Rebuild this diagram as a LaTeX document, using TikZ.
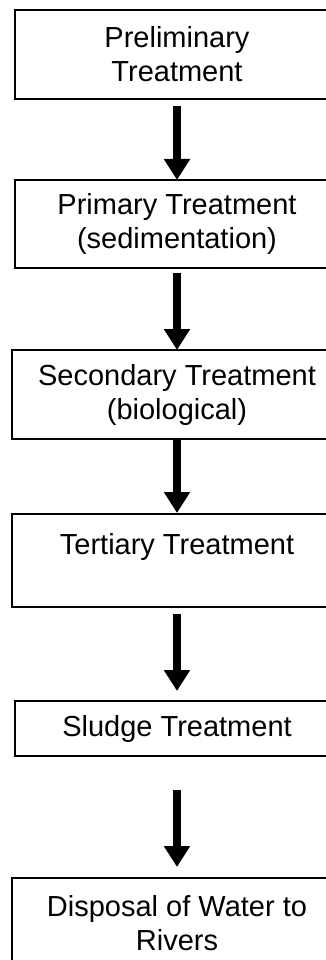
\documentclass[tikz,border=0pt]{standalone}
\usepackage{fontspec}
\setmainfont{Liberation Sans}
\usetikzlibrary{arrows.meta}
\tikzset{
  stagebox/.style={draw=black, line width=1.5pt, fill=white, align=center, inner sep=0pt,
    font=\fontsize{29}{34}\selectfont, text=black},
  flowarrow/.style={line width=8pt, -{Triangle[width=25pt,length=21pt]}}
}
\begin{document}
\begin{tikzpicture}[x=1pt,y=-1pt]
\useasboundingbox (0,0) rectangle (326,960);
\node[stagebox, minimum width=324pt, minimum height=89pt] (b1) at (177,54.5) {Preliminary\\Treatment};
\node[stagebox, minimum width=324pt, minimum height=88pt] (b2) at (177,224) {Primary Treatment\\(sedimentation)};
\node[stagebox, minimum width=330pt, minimum height=89pt] (b3) at (177,394.5) {Secondary Treatment\\(biological)};
\node[stagebox, minimum width=330pt, minimum height=93pt] (b4) at (177,560.5) {Tertiary Treatment\\\mbox{}};
\node[stagebox, minimum width=324pt, minimum height=55pt] (b5) at (177,728.5) {Sludge Treatment};
\node[stagebox, minimum width=330pt, minimum height=91pt] (b6) at (177,923.5) {Disposal of Water to\\Rivers};
\coordinate (a1s) at (177,106); \coordinate (a1e) at (177,180);
\coordinate (a2s) at (177,273); \coordinate (a2e) at (177,350);
\coordinate (a3s) at (177,438); \coordinate (a3e) at (177,513);
\coordinate (a4s) at (177,614); \coordinate (a4e) at (177,691);
\coordinate (a5s) at (177,790); \coordinate (a5e) at (177,867);
\draw[flowarrow] (a1s) -- (a1e);
\draw[flowarrow] (a2s) -- (a2e);
\draw[flowarrow] (a3s) -- (a3e);
\draw[flowarrow] (a4s) -- (a4e);
\draw[flowarrow] (a5s) -- (a5e);
\end{tikzpicture}
\end{document}
